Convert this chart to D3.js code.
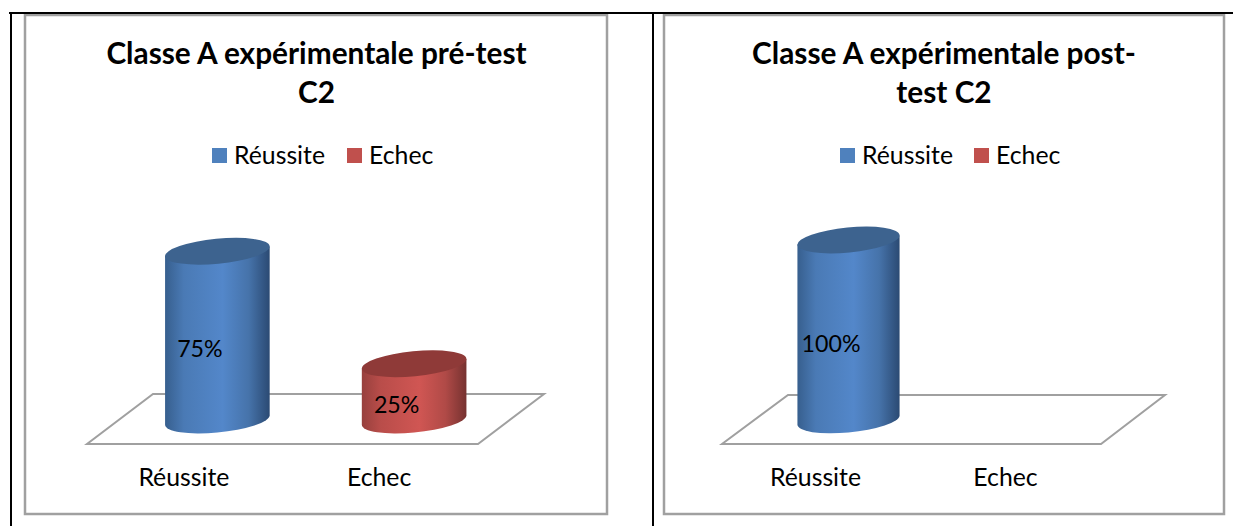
<!DOCTYPE html>
<html>
<head>
<meta charset="utf-8">
<script src="https://cdn.jsdelivr.net/npm/d3@7"></script>
<style>
  html, body { margin: 0; padding: 0; background: #fff; }
  svg { display: block; }
  text { font-family: Lato, "Open Sans", sans-serif; fill: #000; }
</style>
</head>
<body>
<svg id="chart" width="1233" height="526"></svg>
<script>
// Data
const categories = ['Réussite', 'Echec'];
const preTestValues = [0.75, 0.25];
const postTestValues = [1, 0];
const preTestTitle = ['Classe A expérimentale pré-test', 'C2'];
const postTestTitle = ['Classe A expérimentale post-', 'test C2'];

const svg = d3.select('#chart');
const percent = d3.format('.0%');

const colors = {
    'Réussite': { base: '#4f81bd', top: '#3d638f', stops: ['#375f8e', '#4a7ab5', '#5387ca', '#4673aa', '#2b4a73'] },
    'Echec': { base: '#c0504d', top: '#8f3a38', stops: ['#97403d', '#b94d4a', '#d05653', '#b04a47', '#763230'] }
};

// Gradients for the cylinder sides
const defs = svg.append('defs');
categories.forEach((c, i) => {
    const gradient = defs.append('linearGradient').attr('id', 'side-' + i);
    [0, 0.18, 0.55, 0.8, 1].forEach((offset, j) => {
        gradient.append('stop').attr('offset', offset).attr('stop-color', colors[c].stops[j]);
    });
});

function drawPanel(cfg) {
    const g = svg.append('g');

    // Chart frame
    g.append('rect')
        .attr('x', cfg.box[0])
        .attr('y', cfg.box[1])
        .attr('width', cfg.box[2] - cfg.box[0])
        .attr('height', cfg.box[3] - cfg.box[1])
        .attr('fill', '#fff')
        .attr('stroke', '#a0a0a0')
        .attr('stroke-width', 2.5);

    // Title
    g.selectAll('.title')
        .data(cfg.title)
        .enter()
        .append('text')
        .attr('class', 'title')
        .attr('x', cfg.titleX)
        .attr('y', (d, i) => 64 + i * 39)
        .attr('text-anchor', 'middle')
        .attr('font-size', 29.8)
        .attr('font-weight', 700)
        .text(d => d);

    // Legend
    const legend = g.selectAll('.legend')
        .data(categories)
        .enter()
        .append('g')
        .attr('class', 'legend')
        .attr('transform', (d, i) => `translate(${cfg.legendX[i]},148)`);
    legend.append('rect')
        .attr('width', 15)
        .attr('height', 15)
        .attr('fill', d => colors[d].base);
    legend.append('text')
        .attr('x', 22)
        .attr('y', 16)
        .attr('font-size', 24.8)
        .text(d => d);

    const x = d3.scaleBand().domain(categories).range(cfg.xRange);
    const y = d3.scaleLinear().domain([0, 1]).range([cfg.baseY, cfg.baseY - cfg.plotHeight]);

    // Floor of the 3D plot
    g.append('path')
        .datum(cfg.floor)
        .attr('d', d3.line().curve(d3.curveLinearClosed))
        .attr('fill', '#fff')
        .attr('stroke', '#a0a0a0')
        .attr('stroke-width', 2);

    // Category labels
    g.selectAll('.cat')
        .data(categories)
        .enter()
        .append('text')
        .attr('class', 'cat')
        .attr('x', (d, i) => x(d) + x.bandwidth() / 2 + cfg.labelShift[i])
        .attr('y', 486)
        .attr('text-anchor', 'middle')
        .attr('font-size', 24.8)
        .text(d => d);

    // Cylinders
    const rows = categories.map((c, i) => ({ c, i, v: cfg.values[i] })).filter(d => d.v > 0);
    const tilt = -5.5;
    const ry = 12.5;
    const rx = x.bandwidth() * cfg.widthRatio / 2;
    const t = tilt * Math.PI / 180;
    const hx = Math.sqrt(rx * rx * Math.cos(t) ** 2 + ry * ry * Math.sin(t) ** 2);
    const dy = (rx * rx - ry * ry) * Math.sin(t) * Math.cos(t) / hx;

    const bars = g.selectAll('.bar')
        .data(rows)
        .enter()
        .append('g')
        .attr('class', 'bar');

    bars.append('path')
        .attr('fill', d => `url(#side-${d.i})`)
        .attr('d', d => {
            const cx = x(d.c) + x.bandwidth() / 2;
            return `M${cx - hx},${y(d.v) - dy}L${cx - hx},${y(0) - dy}`
                + `A${rx},${ry} ${tilt} 0 0 ${cx + hx},${y(0) + dy}`
                + `L${cx + hx},${y(d.v) + dy}Z`;
        });

    bars.append('ellipse')
        .attr('rx', rx)
        .attr('ry', ry)
        .attr('fill', d => colors[d.c].top)
        .attr('transform', d => `translate(${x(d.c) + x.bandwidth() / 2},${y(d.v)}) rotate(${tilt})`);

    bars.append('text')
        .attr('x', d => x(d.c) + x.bandwidth() / 2 - 17.5)
        .attr('y', d => (y(d.v) + y(0)) / 2 + 21.5)
        .attr('text-anchor', 'middle')
        .attr('font-size', 23.2)
        .text(d => percent(d.v));
}

drawPanel({
    title: preTestTitle,
    values: preTestValues,
    box: [25, 15, 607, 514],
    titleX: 316.5,
    legendX: [212, 347],
    labelShift: [-33.5, -35],
    xRange: [119, 512.5],
    widthRatio: 0.534,
    baseY: 420,
    plotHeight: 225,
    floor: [[153, 394], [544, 394], [478, 444], [87, 444]]
});

drawPanel({
    title: postTestTitle,
    values: postTestValues,
    box: [664, 15, 1224, 514],
    titleX: 944,
    legendX: [840, 974],
    labelShift: [-33, -33],
    xRange: [753.5, 1133.5],
    widthRatio: 0.54,
    baseY: 420,
    plotHeight: 180,
    floor: [[788, 395], [1165, 395], [1101, 444], [722, 444]]
});

// Table lines of the page the charts sit in
svg.append('path')
    .attr('d', 'M9,13H1233M11,12V526M653,12V526')
    .attr('fill', 'none')
    .attr('stroke', '#000')
    .attr('stroke-width', 2);
</script>
</body>
</html>
